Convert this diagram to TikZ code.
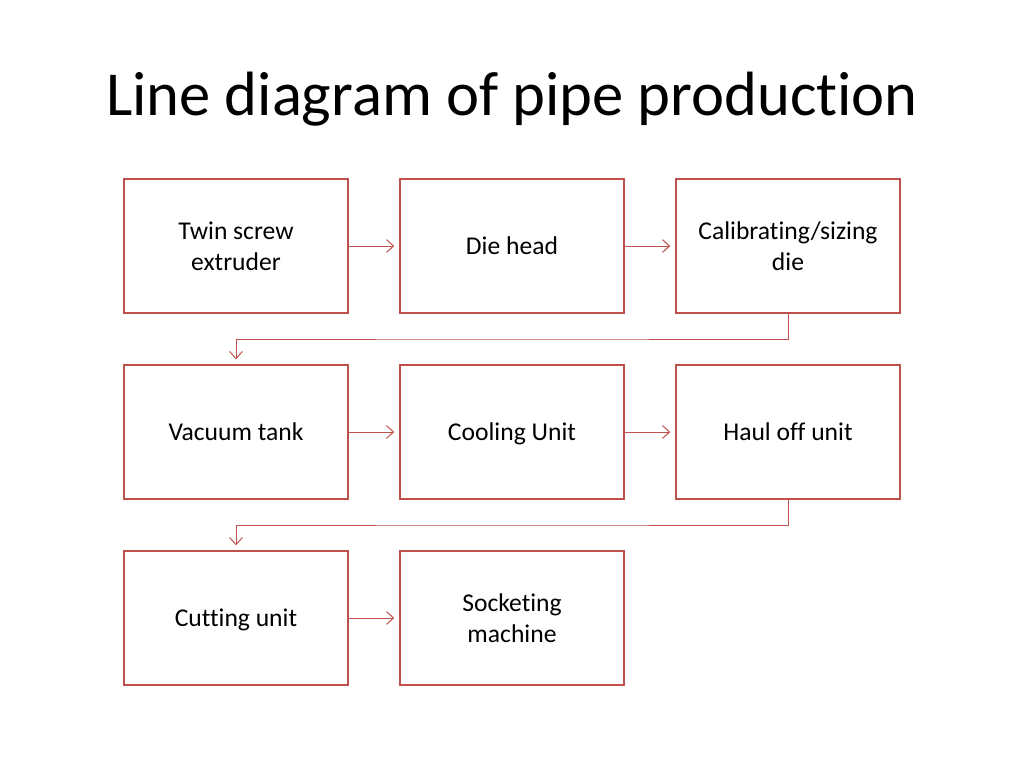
\documentclass[tikz,border=0pt]{standalone}
\usepackage{fontspec}
\setmainfont[Ligatures=NoCommon]{Carlito}
\usetikzlibrary{arrows.meta}
\definecolor{boxred}{RGB}{192,80,77}

\begin{document}
\begin{tikzpicture}[x=0.703125pt,y=-0.703125pt,>={Straight Barb[length=5pt,width=9pt]},
  step box/.style={draw=boxred,line width=2pt,minimum width=157.5pt,minimum height=94.2pt,align=center,font=\fontsize{18}{21.6}\selectfont},
  one line/.style={text height=14pt,text depth=1.5pt},
  flow/.style={->,draw=boxred,line width=0.7pt,shorten >=3pt}]
  \useasboundingbox (0,0) rectangle (1024,768);
  \node[font=\fontsize{44}{52}\selectfont] (title) at (512,99) {Line diagram of pipe production};

  \node[step box] (twin) at (236,246) {Twin screw\\extruder};
  \node[step box,one line] (die) at (512,246) {Die head};
  \node[step box] (calib) at (788,246) {Calibrating/sizing\\die};
  \node[step box,one line] (vacuum) at (236,432) {Vacuum tank};
  \node[step box,one line] (cool) at (512,432) {Cooling Unit};
  \node[step box,one line] (haul) at (788,432) {Haul off unit};
  \node[step box,one line] (cut) at (236,618) {Cutting unit};
  \node[step box] (socket) at (512,618) {Socketing\\machine};

  \coordinate (bend1) at (512,339);
  \coordinate (bend2) at (512,525);

\path[flow]
  (twin) edge (die)
  (die) edge (calib)
  (vacuum) edge (cool)
  (cool) edge (haul)
  (cut) edge (socket);
\draw[flow] (calib.south) |- (bend1) -| (vacuum.north);
\draw[flow] (haul.south) |- (bend2) -| (cut.north);
\end{tikzpicture}
\end{document}
